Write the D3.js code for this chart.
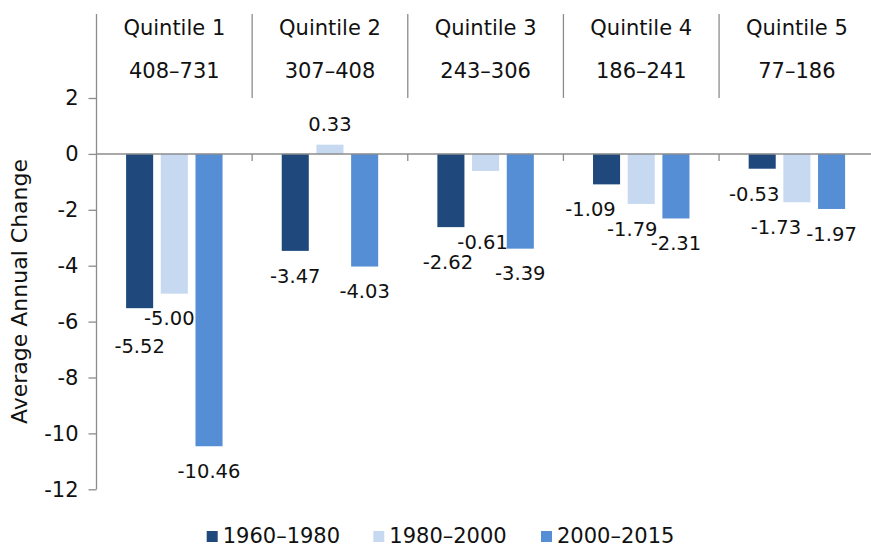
<!DOCTYPE html>
<html>
<head>
<meta charset="utf-8">
<script src="https://cdn.jsdelivr.net/npm/d3@7"></script>
<style>
  body { margin: 0; background: #fff; }
  svg { display: block; font-family: "DejaVu Sans", Verdana, sans-serif; }
  .axis path, .axis line { stroke: #8c8c8c; }
</style>
</head>
<body>
<div id="chart"></div>
<script>
// Data
const quintiles = ['Quintile 1', 'Quintile 2', 'Quintile 3', 'Quintile 4', 'Quintile 5'];
const ranges = ['408–731', '307–408', '243–306', '186–241', '77–186'];
const series = ['1960–1980', '1980–2000', '2000–2015'];
const v1960 = [-5.52, -3.47, -2.62, -1.09, -0.53];
const v1980 = [-5.00, 0.33, -0.61, -1.79, -1.73];
const v2000 = [-10.46, -4.03, -3.39, -2.31, -1.97];
const yTicks = [2, 0, -2, -4, -6, -8, -10, -12];

const colors = ['#1f497d', '#c6d9f1', '#558ed5'];
const values = [v1960, v1980, v2000];

// label nudges (layout only) to mimic the original placement, keyed "quintile|series"
const nudge = {
  '0|0': [0, 13], '0|1': [-5, 0],
  '2|0': [-3, 10], '2|1': [-3, 46],
  '3|0': [-16, 0], '3|1': [-9, 0],
  '4|0': [-8, 0], '4|1': [-21, 0]
};

const width = 871, height = 548;

const svg = d3.select('#chart').append('svg')
  .attr('width', width)
  .attr('height', height);

const x0 = d3.scaleBand()
  .domain(quintiles)
  .range([96.5, 874.7]);

const x1 = d3.scaleBand()
  .domain(series)
  .range([0, x0.bandwidth()])
  .paddingInner(0.22)
  .paddingOuter(0.853);

const y = d3.scaleLinear()
  .domain([-12, 2])
  .range([489.3, 98]);

// rows of bars
const rows = [];
quintiles.forEach((q, qi) => {
  series.forEach((s, si) => {
    rows.push({ q, qi, s, si, v: values[si][qi] });
  });
});

// header separators
const axisX = x0.range()[0];
svg.append('g')
  .selectAll('line')
  .data(quintiles.slice(1))
  .join('line')
    .attr('x1', d => x0(d)).attr('x2', d => x0(d))
    .attr('y1', 14).attr('y2', y(2))
    .attr('stroke', '#8c8c8c')
    .attr('stroke-width', 1.3);

// header text
const head = svg.append('g')
  .selectAll('g')
  .data(quintiles)
  .join('g')
    .attr('transform', d => `translate(${x0(d) + x0.bandwidth() / 2},0)`);
head.append('text')
  .attr('y', 35)
  .attr('text-anchor', 'middle')
  .attr('font-size', 21)
  .attr('fill', '#111')
  .text(d => d);
head.append('text')
  .attr('y', 78)
  .attr('text-anchor', 'middle')
  .attr('font-size', 21)
  .attr('fill', '#111')
  .text((d, i) => ranges[i]);

// bars
svg.append('g')
  .selectAll('rect')
  .data(rows)
  .join('rect')
    .attr('x', d => x0(d.q) + x1(d.s))
    .attr('width', x1.bandwidth())
    .attr('y', d => y(Math.max(0, d.v)))
    .attr('height', d => Math.abs(y(d.v) - y(0)))
    .attr('fill', d => colors[d.si]);

// y axis
const yAxis = svg.append('g')
  .attr('class', 'axis')
  .attr('transform', `translate(${axisX},0)`)
  .call(d3.axisLeft(y).tickValues(yTicks).tickSize(8).tickPadding(10).tickFormat(d => String(d)));
yAxis.select('.domain').remove();
yAxis.selectAll('line').attr('stroke-width', 1.3);
yAxis.selectAll('text').attr('font-size', 21).attr('fill', '#111').attr('font-family', 'DejaVu Sans, Verdana, sans-serif');
svg.append('line')
  .attr('x1', axisX).attr('x2', axisX)
  .attr('y1', 14).attr('y2', y(-12))
  .attr('stroke', '#8c8c8c')
  .attr('stroke-width', 1.3);

// zero line and category ticks
svg.append('line')
  .attr('x1', axisX).attr('x2', width)
  .attr('y1', y(0)).attr('y2', y(0))
  .attr('stroke', '#8c8c8c')
  .attr('stroke-width', 1.5);
svg.append('g')
  .selectAll('line')
  .data(quintiles.slice(1))
  .join('line')
    .attr('x1', d => x0(d)).attr('x2', d => x0(d))
    .attr('y1', y(0)).attr('y2', y(0) + 7)
    .attr('stroke', '#8c8c8c')
    .attr('stroke-width', 1.3);

// data labels
svg.append('g')
  .selectAll('text')
  .data(rows)
  .join('text')
    .attr('x', d => x0(d.q) + x1(d.s) + x1.bandwidth() / 2 + (nudge[d.qi + '|' + d.si] || [0, 0])[0])
    .attr('y', d => y(d.v) + (d.v < 0 ? 25 : -21) + (nudge[d.qi + '|' + d.si] || [0, 0])[1])
    .attr('dy', '0.35em')
    .attr('text-anchor', 'middle')
    .attr('font-size', 19.5)
    .attr('fill', '#111')
    .text(d => d.v.toFixed(2));

// y axis title
svg.append('text')
  .attr('transform', `translate(27,${(158 + 425) / 2}) rotate(-90)`)
  .attr('text-anchor', 'middle')
  .attr('font-size', 22)
  .attr('fill', '#111')
  .text('Average Annual Change');

// legend
const legendX = [206.7, 373.3, 541];
const legend = svg.append('g')
  .selectAll('g')
  .data(series)
  .join('g')
    .attr('transform', (d, i) => `translate(${legendX[i]},531)`);
legend.append('rect')
  .attr('width', 11)
  .attr('height', 11)
  .attr('fill', (d, i) => colors[i]);
legend.append('text')
  .attr('x', 16)
  .attr('y', 11.5)
  .attr('font-size', 21)
  .attr('fill', '#111')
  .text(d => d);
</script>
</body>
</html>
